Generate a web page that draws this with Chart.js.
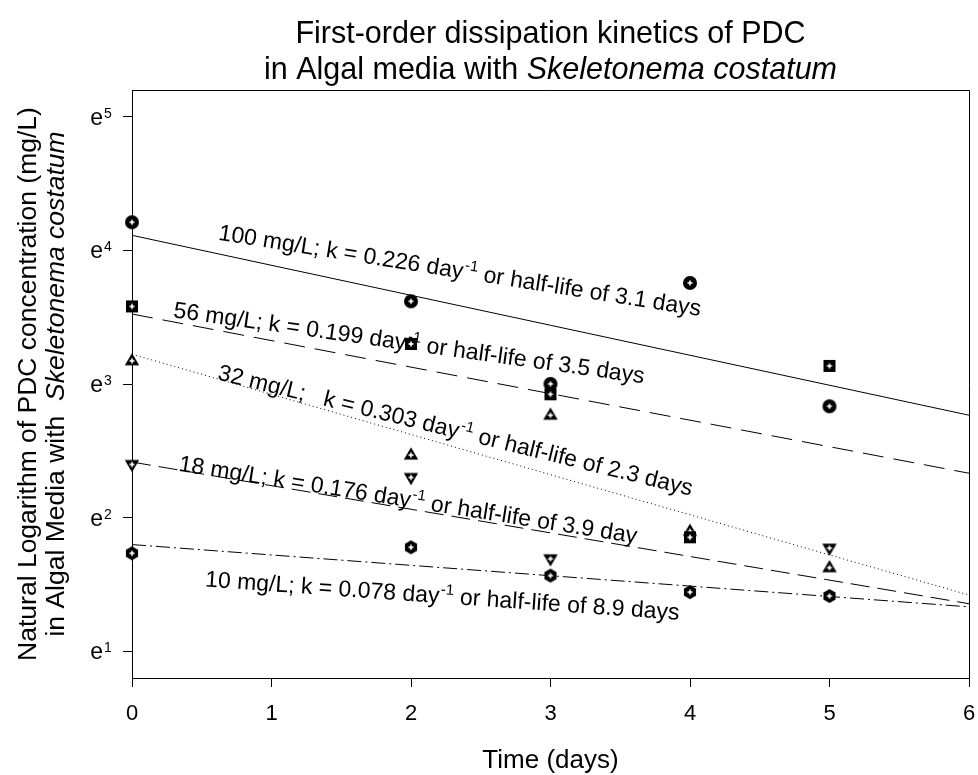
<!DOCTYPE html>
<html>
<head>
<meta charset="utf-8">
<script src="https://cdn.jsdelivr.net/npm/chart.js@4/dist/chart.umd.min.js"></script>
<style>
  html, body { margin: 0; background: #fff; }
</style>
</head>
<body>
<canvas id="myChart" width="978" height="775"></canvas>
<script>
const FONT = "'Liberation Sans', Arial, sans-serif";

const days = [0, 2, 3, 4, 5];
const conc100 = [67.4, 37.3, 20.1, 42.8, 17.0];
const conc56 = [35.9, 27.1, 18.6, 6.38, 23.0];
const conc32 = [23.9, 11.8, 15.9, 6.67, 5.08];
const conc18 = [11.0, 9.98, 5.43, null, 5.88];
const conc10 = [5.66, 5.92, 4.79, 4.23, 4.11];

// first-order fit lines, ends at day 0 and day 6
const fitDays = [0, 6];
const fit100 = [61.1, 15.9];
const fit56 = [33.9, 10.3];
const fit32 = [25.1, 4.14];
const fit18 = [11.2, 3.88];
const fit10 = [6.04, 3.79];

const xTicks = [0, 1, 2, 3, 4, 5, 6];
const yPowers = [1, 2, 3, 4, 5];

const fitText = [
  ["100 mg/L; k = 0.226 day", "-1", " or half-life of 3.1 days"],
  ["56 mg/L; k = 0.199 day", "-1", " or half-life of 3.5 days"],
  ["32 mg/L;   k = 0.303 day", "-1", " or half-life of 2.3 days"],
  ["18 mg/L; k = 0.176 day", "-1", " or half-life of 3.9 day"],
  ["10 mg/L; k = 0.078 day", "-1", " or half-life of 8.9 days"],
];

function marker(shape) {
  const s = 18, m = 9;
  const c = document.createElement("canvas");
  c.width = c.height = s;
  const g = c.getContext("2d");
  g.fillStyle = "#000";
  g.beginPath();
  if (shape === "circle") g.arc(m, m, 7, 0, Math.PI * 2);
  else if (shape === "square") g.rect(m - 6, m - 6, 12, 12);
  else if (shape === "up") { g.moveTo(m, m - 7.8); g.lineTo(m + 7.2, m + 4.6); g.lineTo(m - 7.2, m + 4.6); }
  else if (shape === "down") { g.moveTo(m, m + 7.8); g.lineTo(m + 7.2, m - 4.6); g.lineTo(m - 7.2, m - 4.6); }
  else {
    for (let i = 0; i < 6; i++) {
      const a = Math.PI / 2 + i * Math.PI / 3;
      g.lineTo(m + 7 * Math.cos(a), m + 7 * Math.sin(a));
    }
  }
  g.closePath();
  g.fill();
  g.fillStyle = "#fff";
  g.fillRect(m - 2.5, m - 0.8, 5, 1.6);
  g.fillRect(m - 0.8, m - 2.5, 1.6, 5);
  return c;
}

const pts = (xs, ys) => xs.map((x, i) => ({ x, y: ys[i] })).filter(p => p.y !== null);

const pointSets = [
  [conc100, "circle"], [conc56, "square"], [conc32, "up"], [conc18, "down"], [conc10, "hex"],
].map(([vals, shape]) => ({
  data: pts(days, vals),
  showLine: false,
  pointStyle: marker(shape),
  pointRadius: 8,
  clip: false,
  order: 1,
}));

const lineSets = [
  [fit100, []], [fit56, [21, 10]], [fit32, [1, 3]], [fit18, [19, 8]], [fit10, [14, 4, 2, 4]],
].map(([vals, dash]) => ({
  data: pts(fitDays, vals),
  showLine: true,
  borderColor: "#000",
  borderWidth: 1,
  borderDash: dash,
  pointRadius: 0,
  order: 2,
}));

function richWidth(ctx, parts, size) {
  return parts.reduce((w, [t, it]) => {
    ctx.font = `${it ? "italic " : ""}${size}px ${FONT}`;
    return w + ctx.measureText(t).width;
  }, 0);
}
function drawRich(ctx, parts, cx, y, size) {
  let x = cx - richWidth(ctx, parts, size) / 2;
  ctx.textAlign = "left";
  ctx.textBaseline = "alphabetic";
  parts.forEach(([t, it]) => {
    ctx.font = `${it ? "italic " : ""}${size}px ${FONT}`;
    ctx.fillText(t, x, y);
    x += ctx.measureText(t).width;
  });
}

const textPlugin = {
  id: "texts",
  beforeDatasetsDraw(chart) {
    const { ctx, scales } = chart;
    // label anchors in data units: [day, mg/L, angle]
    const anchors = [[0.615, 59.1, 9], [0.293, 33.1, 8], [0.608, 20.8, 13.8], [0.329, 10.5, 9], [0.522, 4.41, 4]];
    ctx.save();
    ctx.fillStyle = "#000";
    anchors.forEach(([d, c, ang], i) => {
      const [a, b, rest] = fitText[i];
      ctx.save();
      ctx.translate(scales.x.getPixelForValue(d), scales.y.getPixelForValue(c));
      ctx.rotate(ang * Math.PI / 180);
      ctx.textAlign = "left";
      ctx.textBaseline = "alphabetic";
      ctx.font = `23px ${FONT}`;
      ctx.fillText(a, 0, 0);
      let w = ctx.measureText(a).width + 1;
      ctx.font = `15px ${FONT}`;
      ctx.fillText(b, w, -9);
      w += ctx.measureText(b).width;
      ctx.font = `23px ${FONT}`;
      ctx.fillText(rest, w, 0);
      ctx.restore();
    });
    ctx.restore();
  },
  afterDraw(chart) {
    const { ctx, chartArea: ca, scales } = chart;
    ctx.save();
    ctx.strokeStyle = "#000";
    ctx.lineWidth = 1;
    ctx.beginPath();
    ctx.moveTo(ca.left, ca.top + 0.5);
    ctx.lineTo(ca.right + 0.5, ca.top + 0.5);
    ctx.lineTo(ca.right + 0.5, ca.bottom);
    ctx.stroke();
    ctx.fillStyle = "#000";
    // y tick labels: e with superscript power
    yPowers.forEach((p) => {
      const y = scales.y.getPixelForValue(Math.exp(p));
      ctx.textAlign = "right";
      ctx.font = `23px ${FONT}`;
      ctx.fillText("e", 103, y + 8);
      ctx.textAlign = "left";
      ctx.font = `14px ${FONT}`;
      ctx.fillText(String(p), 104, y + 1);
    });
    const cx = (ca.left + ca.right) / 2;
    drawRich(ctx, [["First-order dissipation kinetics of PDC", false]], cx, 43, 30.5);
    drawRich(ctx, [["in Algal media with ", false], ["Skeletonema costatum", true]], cx, 79, 30.5);
    drawRich(ctx, [["Time (days)", false]], cx, 768, 26);
    ctx.translate(0, (ca.top + ca.bottom) / 2);
    ctx.rotate(-Math.PI / 2);
    drawRich(ctx, [["Natural Logarithm of PDC concentration (mg/L)", false]], 0, 36, 26.5);
    drawRich(ctx, [["in Algal Media with  ", false], ["Skeletonema costatum", true]], 0, 64, 26.5);
    ctx.restore();
  },
};

new Chart(document.getElementById("myChart").getContext("2d"), {
  type: "scatter",
  data: { datasets: [...pointSets, ...lineSets] },
  plugins: [textPlugin],
  options: {
    responsive: false,
    animation: false,
    devicePixelRatio: 1,
    layout: { padding: { top: 90, right: 7, left: 0, bottom: 0 } },
    plugins: { legend: { display: false }, tooltip: { enabled: false } },
    scales: {
      x: {
        type: "linear",
        min: 0,
        max: 6,
        afterBuildTicks: (s) => { s.ticks = xTicks.map(v => ({ value: v })); },
        afterFit: (s) => { s.height = 97; s.paddingLeft = 0; s.paddingRight = 0; },
        ticks: { color: "#000", font: { family: FONT, size: 22 }, padding: 14 },
        grid: { drawOnChartArea: false, tickLength: 9, color: "#000" },
        border: { color: "#000", width: 1 },
      },
      y: {
        type: "logarithmic",
        min: Math.exp(0.8),
        max: Math.exp(5.2),
        afterBuildTicks: (s) => { s.ticks = yPowers.map(p => ({ value: Math.exp(p) })); },
        afterFit: (s) => { s.width = 132; s.paddingTop = 0; s.paddingBottom = 0; },
        ticks: { display: false },
        grid: { drawOnChartArea: false, tickLength: 9, color: "#000" },
        border: { color: "#000", width: 1 },
      },
    },
  },
});
</script>
</body>
</html>
